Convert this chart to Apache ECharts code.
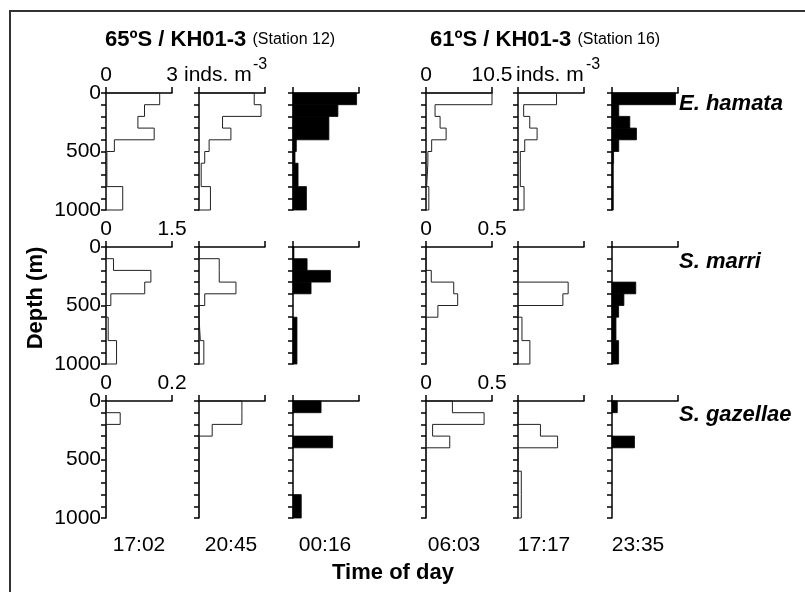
<!DOCTYPE html>
<html>
<head>
<meta charset="utf-8">
<script src="https://cdn.jsdelivr.net/npm/echarts@6/dist/echarts.min.js"></script>
<style>
  body { margin: 0; background: #fff; }
  #main { width: 805px; height: 592px; }
</style>
</head>
<body>
<div id="main"></div>
<script>
// depth bin edges (m), shared by all profiles
var depthEdges = [0, 100, 200, 300, 400, 500, 600, 800, 1000]
var times = ['17:02', '20:45', '00:16', '06:03', '17:17', '23:35']
var species = ['E. hamata', 'S. marri', 'S. gazellae']
// full scale of the abundance axis: [Station 12, Station 16]
var scaleMax = [[3, 10.5], [1.5, 0.5], [0.2, 0.5]]

// inds. m-3 per depth bin, one row per sampling time
var eHamata = [
  [2.44, 1.75, 1.45, 2.19, 0.38, 0.04, 0.04, 0.76],
  [2.51, 2.82, 1.07, 1.45, 0.46, 0.26, 0.1, 0.52],
  [2.89, 2.04, 1.63, 1.63, 0.15, 0.09, 0.23, 0.61],
  [10.5, 1.44, 2.24, 3.2, 0.9, 0.3, 0.1, 0.45],
  [6.13, 0.9, 1.87, 3.04, 1.07, 0.37, 0.37, 0.96],
  [10.1, 1.07, 2.83, 3.89, 1.07, 0.25, 0.2, 0.2]
]
var sMarri = [
  [0, 0.17, 1.02, 0.88, 0.11, 0, 0.05, 0.24],
  [0, 0.46, 0.46, 0.84, 0.13, 0, 0.03, 0.11],
  [0.02, 0.32, 0.85, 0.41, 0, 0, 0.09, 0.09],
  [0, 0, 0.04, 0.21, 0.24, 0.09, 0, 0],
  [0, 0, 0, 0.38, 0.34, 0, 0.03, 0.09],
  [0, 0, 0, 0.18, 0.09, 0.05, 0.03, 0.05]
]
var sGazellae = [
  [0, 0.043, 0, 0, 0, 0, 0, 0],
  [0.13, 0.13, 0.04, 0, 0, 0, 0, 0],
  [0.085, 0, 0, 0.12, 0, 0, 0, 0.025],
  [0.2, 0.44, 0.05, 0.18, 0, 0, 0, 0],
  [0, 0, 0.17, 0.3, 0, 0, 0.025, 0.025],
  [0.04, 0, 0, 0.17, 0, 0, 0, 0]
]
var profiles = [eHamata, sMarri, sGazellae]

// layout
var colLeft = [106, 199, 293, 426, 518, 612]
var rowTop = [93, 247, 401]
var panelW = 66
var panelH = 117
var timeX = [139, 231, 325, 454, 544, 638]
var FONT = '"Liberation Sans", Arial, Helvetica, sans-serif'

function stepPath (vals) {
  var pts = [[0, depthEdges[0]]]
  vals.forEach(function (v, i) {
    pts.push([v, depthEdges[i]])
    pts.push([v, depthEdges[i + 1]])
  })
  pts.push([0, depthEdges[depthEdges.length - 1]])
  return pts
}

function renderBar (params, api) {
  var p0 = api.coord([0, api.value(1)])
  var p1 = api.coord([api.value(0), api.value(2)])
  if (api.value(0) <= 0) return null
  return {
    type: 'rect',
    shape: { x: p0[0], y: p0[1], width: p1[0] - p0[0], height: p1[1] - p0[1] },
    style: { fill: '#000', stroke: '#000', lineWidth: 0.8 }
  }
}

function txt (text, x, y, size, extra) {
  var s = { text: text, x: 0, y: 0, fill: '#000', fontSize: size, fontFamily: FONT,
    align: 'center', verticalAlign: 'middle', textAlign: 'center', textVerticalAlign: 'middle' }
  for (var k in extra) s[k] = extra[k]
  return { type: 'text', x: x, y: y, style: s }
}

var grids = []
var xAxes = []
var yAxes = []
var series = []
var axisStyle = { color: '#000', width: 1.5 }

for (var r = 0; r < 3; r++) {
  for (var c = 0; c < 6; c++) {
    var idx = grids.length
    var max = scaleMax[r][c < 3 ? 0 : 1]
    grids.push({ left: colLeft[c], top: rowTop[r], width: panelW, height: panelH, outerBoundsMode: 'none' })
    xAxes.push({
      gridIndex: idx, type: 'value', position: 'top', min: 0, max: max, interval: max,
      axisLine: { lineStyle: axisStyle },
      axisTick: { length: 6, lineStyle: axisStyle },
      splitLine: { show: false },
      axisLabel: { show: c === 0 || c === 3, color: '#000', fontSize: 21, fontFamily: FONT, margin: 7 }
    })
    yAxes.push({
      gridIndex: idx, type: 'value', inverse: true, min: 0, max: 1000, interval: 100,
      axisLine: { show: true, lineStyle: axisStyle },
      axisTick: { show: true, length: 5, lineStyle: axisStyle },
      splitLine: { show: false },
      axisLabel: {
        show: c === 0, color: '#000', fontSize: 21, fontFamily: FONT, margin: 5,
        formatter: function (v) { return v % 500 === 0 ? String(v) : '' }
      }
    })
    var vals = profiles[r][c]
    if (c === 2 || c === 5) {
      series.push({
        type: 'custom', xAxisIndex: idx, yAxisIndex: idx,
        renderItem: renderBar,
        encode: { x: 0, y: [1, 2] },
        data: vals.map(function (v, i) { return [v, depthEdges[i], depthEdges[i + 1]] })
      })
    } else {
      series.push({
        type: 'line', xAxisIndex: idx, yAxisIndex: idx,
        symbol: 'none', clip: false,
        lineStyle: { color: '#222', width: 1 },
        data: stepPath(vals)
      })
    }
  }
}

var titleRich = {
  b: { fontSize: 22, fontWeight: 'bold', fontFamily: FONT },
  n: { fontSize: 16, fontFamily: FONT, padding: [0, 0, 1, 0] }
}
var graphics = [
  { type: 'rect', shape: { x: 10, y: 11, width: 800, height: 590 }, style: { fill: 'none', stroke: '#333', lineWidth: 2 } },
  txt('{b|65ºS / KH01-3} {n|(Station 12)}', 105, 40, 22, { align: 'left', textAlign: 'left', rich: titleRich }),
  txt('{b|61ºS / KH01-3} {n|(Station 16)}', 430, 40, 22, { align: 'left', textAlign: 'left', rich: titleRich }),
  txt('inds. m', 184, 75, 21, { align: 'left', textAlign: 'left' }),
  txt('-3', 253, 65, 16, { align: 'left', textAlign: 'left' }),
  txt('inds. m', 516, 75, 21, { align: 'left', textAlign: 'left' }),
  txt('-3', 586, 65, 16, { align: 'left', textAlign: 'left' }),
  txt('Time of day', 393, 573, 22, { fontWeight: 'bold' })
]
var depthLabel = txt('Depth (m)', 36, 298, 22, { fontWeight: 'bold' })
depthLabel.rotation = Math.PI / 2
graphics.push(depthLabel)

times.forEach(function (t, i) {
  graphics.push(txt(t, timeX[i], 545, 21))
})
var speciesY = [104, 262, 415]
species.forEach(function (s, i) {
  graphics.push(txt(s, 679, speciesY[i], 22, { fontWeight: 'bold', fontStyle: 'italic', align: 'left', textAlign: 'left' }))
})

var myChart = echarts.init(document.getElementById('main'), null, { renderer: 'canvas' })
var option = {
  animation: false,
  backgroundColor: '#fff',
  grid: grids,
  xAxis: xAxes,
  yAxis: yAxes,
  series: series,
  graphic: { elements: graphics }
}
myChart.setOption(option, true)
</script>
</body>
</html>
